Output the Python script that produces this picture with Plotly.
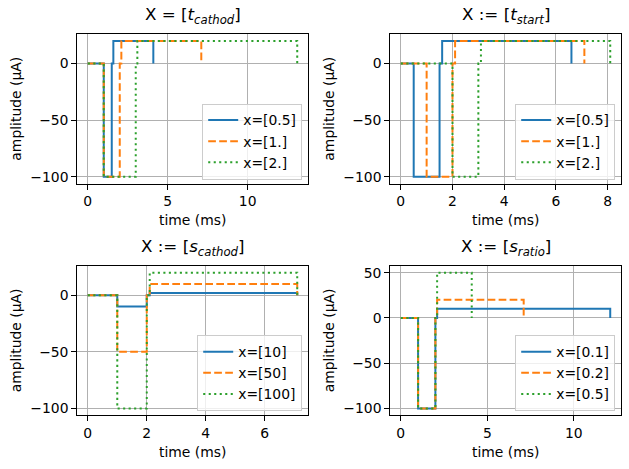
import plotly.graph_objects as go

W, H = 629, 469

# ---- data (breakpoints of each step waveform: time in ms, amplitude in µA) ----
labels_tc = ["x=[0.5]", "x=[1.]", "x=[2.]"]
times_tc = [[0, 1, 1.5, 1.6, 4.1], [0, 1, 2, 2.1, 7.1], [0, 1, 3, 3.1, 13.1]]
amps_tc = [[0, -100, 0, 20, 0], [0, -100, 0, 20, 0], [0, -100, 0, 20, 0]]

labels_ts = ["x=[0.5]", "x=[1.]", "x=[2.]"]
times_ts = [[0, 0.5, 1.5, 1.6, 6.6], [0, 1, 2, 2.1, 7.1], [0, 2, 3, 3.1, 8.1]]
amps_ts = [[0, -100, 0, 20, 0], [0, -100, 0, 20, 0], [0, -100, 0, 20, 0]]

labels_sc = ["x=[10]", "x=[50]", "x=[100]"]
times_sc = [[0, 1, 2, 2.1, 7.1], [0, 1, 2, 2.1, 7.1], [0, 1, 2, 2.1, 7.1]]
amps_sc = [[0, -10, 0, 2, 0], [0, -50, 0, 10, 0], [0, -100, 0, 20, 0]]

labels_sr = ["x=[0.1]", "x=[0.2]", "x=[0.5]"]
times_sr = [[0, 1, 2, 2.1, 12.1], [0, 1, 2, 2.1, 7.1], [0, 1, 2, 2.1, 4.1]]
amps_sr = [[0, -100, 0, 10, 0], [0, -100, 0, 20, 0], [0, -100, 0, 50, 0]]

titles = [
    "X = [<i>t</i><sub><i>cathod</i></sub>]",
    "X := [<i>t</i><sub><i>start</i></sub>]",
    "X := [<i>s</i><sub><i>cathod</i></sub>]",
    "X := [<i>s</i><sub><i>ratio</i></sub>]",
]
xticks = [[0, 5, 10], [0, 2, 4, 6, 8], [0, 2, 4, 6], [0, 5, 10]]
yticks = [[-100, -50, 0], [-100, -50, 0], [-100, -50, 0], [-100, -50, 0, 50]]

panels = [
    (labels_tc, times_tc, amps_tc),
    (labels_ts, times_ts, amps_ts),
    (labels_sc, times_sc, amps_sc),
    (labels_sr, times_sr, amps_sr),
]

colors = ["#1f77b4", "#ff7f0e", "#2ca02c"]
dashes = ["solid", "7.7px,3.3px", "2.1px,3.4px"]

# ---- layout in pixels ----
col_x = [(77.3, 307.7), (390.3, 620.7)]
row_y = [(33.3, 183.3), (266.0, 416.0)]

FONT = "DejaVu Sans"
fig = go.Figure()
layout = dict(
    width=W, height=H, margin=dict(l=0, r=0, t=0, b=0),
    paper_bgcolor="white", plot_bgcolor="white",
    font=dict(family=FONT, size=13.9, color="black"),
)
annotations = []

for i, (labs, ts, ys) in enumerate(panels):
    r, c = divmod(i, 2)
    x0, x1 = col_x[c]
    y0, y1 = row_y[r]
    ax = "" if i == 0 else str(i + 1)
    leg = "legend" if i == 0 else f"legend{i + 1}"
    for k in range(3):
        fig.add_trace(go.Scatter(
            x=ts[k], y=ys[k], mode="lines", line_shape="hv",
            line=dict(color=colors[k], width=2, dash=dashes[k]),
            name=labs[k], xaxis="x" + ax, yaxis="y" + ax, legend=leg,
        ))
    allx = [v for s in ts for v in s]
    ally = [v for s in ys for v in s]
    xmn, xmx = min(allx), max(allx)
    ymn, ymx = min(ally), max(ally)
    dx = (xmx - xmn) * 0.05
    dy = (ymx - ymn) * 0.05
    common = dict(showline=True, linecolor="black", linewidth=1.1, mirror=True,
                  ticks="outside", ticklen=5, tickwidth=1.1, tickcolor="black",
                  showgrid=True, gridcolor="#b0b0b0", gridwidth=1.1,
                  zeroline=False, tickfont=dict(family=FONT, size=13.9))
    layout["xaxis" + ax] = dict(common, domain=[x0 / W, x1 / W],
                                range=[xmn - dx, xmx + dx], tickvals=xticks[i],
                                anchor="y" + ax)
    layout["yaxis" + ax] = dict(common, domain=[1 - y1 / H, 1 - y0 / H],
                                range=[ymn - dy, ymx + dy], tickvals=yticks[i],
                                anchor="x" + ax)
    layout[leg] = dict(
        x=(x1 - 5.5) / W, y=1 - (y1 - 4) / H, xanchor="right", yanchor="bottom",
        bgcolor="rgba(255,255,255,0.8)", bordercolor="#cccccc", borderwidth=1,
        font=dict(family=FONT, size=13.9), itemwidth=30, tracegroupgap=0,
    )
    cx = (x0 + x1) / 2
    annotations.append(dict(text=titles[i], x=cx / W, y=1 - (y0 - 5) / H,
                            xref="paper", yref="paper", xanchor="center",
                            yanchor="bottom", showarrow=False,
                            font=dict(family=FONT, size=16.7)))
    annotations.append(dict(text="time (ms)", x=cx / W, y=1 - (y1 + 36.5) / H,
                            xref="paper", yref="paper", xanchor="center",
                            yanchor="middle", showarrow=False,
                            font=dict(family=FONT, size=13.9)))
    annotations.append(dict(text="amplitude (µA)", x=(x0 - 61.5) / W,
                            y=1 - ((y0 + y1) / 2) / H, xref="paper", yref="paper",
                            xanchor="center", yanchor="middle", textangle=-90,
                            showarrow=False, font=dict(family=FONT, size=13.9)))

layout["annotations"] = annotations
fig.update_layout(**layout)
fig.write_html("out.html")
